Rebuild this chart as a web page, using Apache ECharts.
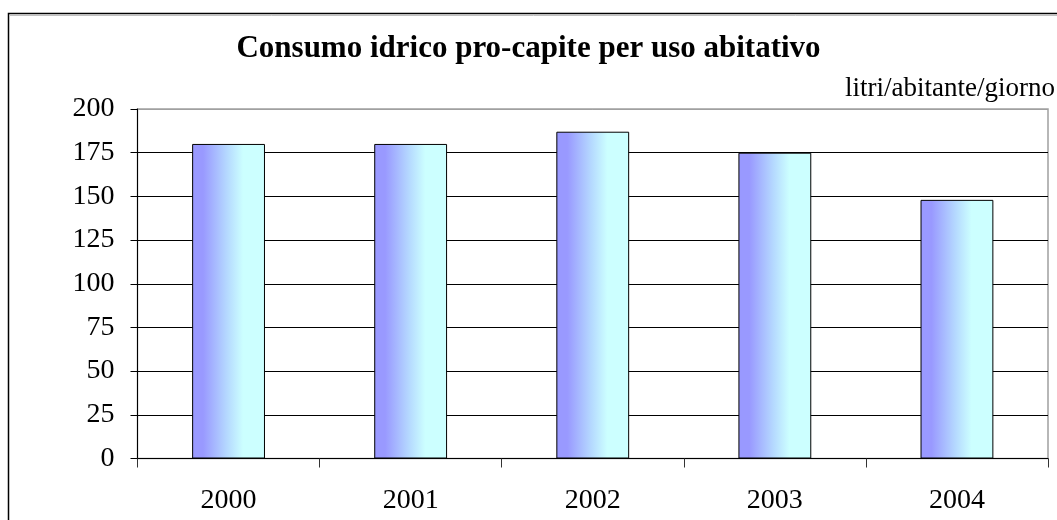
<!DOCTYPE html>
<html><head><meta charset="utf-8">
<script src="https://cdn.jsdelivr.net/npm/echarts@6/dist/echarts.min.js"></script>
<style>html,body{margin:0;padding:0;background:#fff}#c{width:1057px;height:520px}</style>
</head><body><div id="c"></div>
<script>
const categories = ['2000','2001','2002','2003','2004'];
const values = [180, 180, 187, 175, 148];
const yTicks = [0, 25, 50, 75, 100, 125, 150, 175, 200];
const titleText = 'Consumo idrico pro-capite per uso abitativo';
const unitText = 'litri/abitante/giorno';

const chart = echarts.init(document.getElementById('c'), null, {renderer:'canvas'});
const serif = '"Liberation Serif","DejaVu Serif",serif';
chart.setOption({
  animation:false,
  backgroundColor:'#fff',
  title:{text:titleText, left:'center', top:28,
    textStyle:{fontFamily:serif, fontWeight:'bold', fontSize:31, color:'#000'}},
  graphic:[
    {type:'rect', shape:{x:8.5, y:13.5, width:1100, height:600},
     style:{fill:'none', stroke:'#000', lineWidth:1.5}},
    {type:'line', shape:{x1:10, y1:15.5, x2:1057, y2:15.5}, style:{stroke:'#c0c0c0', lineWidth:1}},
    {type:'text', right:2, top:75,
     style:{text:unitText, font:'27px ' + serif, fill:'#000'}}
  ],
  grid:{left:137.5, right:9, top:109, bottom:61.5, show:true, borderColor:'#a0a0a0', borderWidth:1.5},
  xAxis:{type:'category', data:categories,
    axisLine:{lineStyle:{color:'#000', width:1}},
    axisTick:{show:true, length:9, lineStyle:{color:'#333'}},
    axisLabel:{fontFamily:serif, fontSize:28, color:'#000', margin:28}},
  yAxis:{type:'value', min:yTicks[0], max:yTicks[yTicks.length-1], interval:25,
    axisLine:{show:true, lineStyle:{color:'#000', width:1}},
    axisTick:{show:true, length:7, lineStyle:{color:'#000'}},
    axisLabel:{fontFamily:serif, fontSize:28, color:'#000', margin:23},
    splitLine:{show:true, lineStyle:{color:['#000','#000','#000','#000','#000','#000','#000','#000','#a0a0a0'], width:1}}},
  series:[{type:'bar', data:values, barWidth:'40%',
    itemStyle:{borderColor:'#000', borderWidth:1,
      color:new echarts.graphic.LinearGradient(0,0,1,0,[
        {offset:0, color:'#9999FF'},{offset:0.15, color:'#9999FF'},
        {offset:0.48, color:'#B5D9FF'},{offset:0.7, color:'#CCFFFF'},{offset:1, color:'#CCFFFF'}])}}]
});
</script></body></html>
